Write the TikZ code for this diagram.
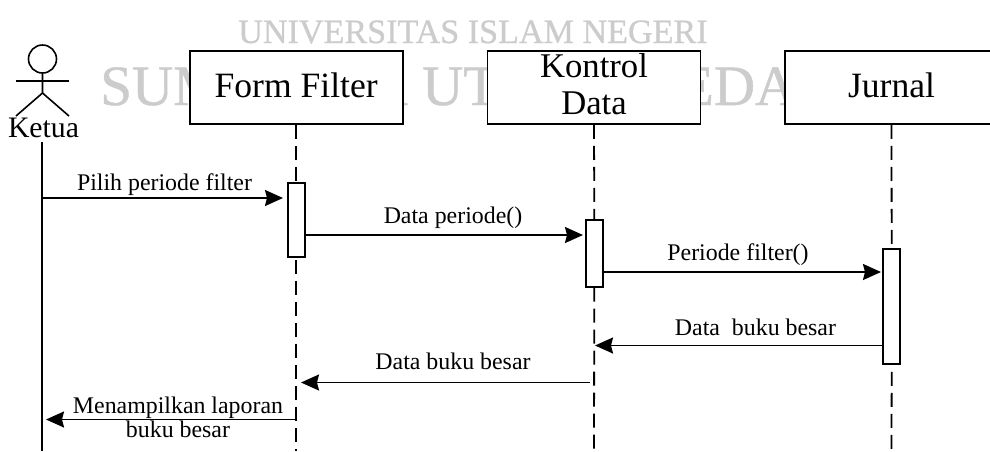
\documentclass[tikz,border=0pt]{standalone}
\usepackage{fontspec}
\setmainfont{Liberation Serif}
\newfontfamily\wmfont[FakeBold=0.8]{Liberation Serif}
\usetikzlibrary{arrows.meta}
\newcommand{\pxsize}[1]{\fontsize{#1}{#1}\selectfont}
\tikzset{
  x=0.75pt,y=-0.75pt,
  lw/.style={line width=1.35pt,black},
  headbox/.style={draw,lw,fill=white,minimum width=159.75pt,minimum height=54.75pt,inner sep=0pt,align=center,font=\fontsize{26.7}{27.75}\selectfont,text depth=3.8pt},
  actbox/.style={draw,lw,fill=white,minimum width=12.75pt,inner sep=0pt},
  life/.style={lw,dash pattern=on 10.5pt off 5.25pt},
  msg/.style={lw,-{Stealth[length=13.5pt,width=12pt,inset=1.5pt]}},
  lbl/.style={font=\pxsize{17.9},inner sep=0pt,align=center},
  wm/.style={text=black!20,inner sep=0pt,anchor=base west},
  stick/.style={line width=1.2pt,black}
}
\begin{document}
\begin{tikzpicture}
\useasboundingbox (0,0) rectangle (990,451);
\clip (0,0) rectangle (990,451);
% watermark
\node[wm,font=\wmfont\pxsize{25.6}] (wma) at (238,43) {UNIVERSITAS ISLAM NEGERI};
\node[wm,font=\wmfont\pxsize{42.8}] (wmb) at (100,105) {SUMATERA UTARA MEDAN};
% coordinates at the foot of the picture
\coordinate (ketuatop) at (42,142);
\coordinate (ketuaend) at (42,451);
\coordinate (ffend) at (296.2,451);
\coordinate (kdend) at (594,451);
\coordinate (juend) at (891.5,451);
% head boxes
\node[headbox] (ff) at (296.2,87.5) {Form Filter};
\node[headbox,text depth=5pt,font=\fontsize{26}{27.75}\selectfont] (kd) at (594,87.5) {Kontrol\\Data};
\node[headbox] (ju) at (891.5,87.5) {Jurnal};
% actor
\node[draw,circle,stick,minimum size=21pt,inner sep=0pt] (head) at (42.5,59) {};
\coordinate (hip) at (42.5,93);
\coordinate (armL) at (16,81);
\coordinate (armR) at (69,81);
\coordinate (legL) at (16,116);
\coordinate (legR) at (69,116);
\draw[stick] (head.south) -- (hip) -- (legL);
\draw[stick] (hip) -- (legR);
\draw[stick] (armL) -- (armR);
\node[font=\pxsize{22.3},inner sep=0pt,anchor=base] (ketua) at (43.5,137) {Ketua};
% activations
\node[actbox,minimum height=55.5pt] (a1) at (296.2,220) {};
\node[actbox,minimum height=50pt] (a2) at (594.3,253.3) {};
\node[actbox,minimum height=86.25pt] (a3) at (891.7,306.5) {};
% lifelines
\draw[lw] (ketuatop) -- (ketuaend);
\draw[life] (ff.south) -- (a1.north);
\draw[life] (a1.south) ++(0,2) -- (ffend);
\draw[life] (kd.south) -- (a2.north);
\draw[life] (a2.south) -- (kdend);
\draw[life] (ju.south) -- (a3.north);
\draw[life] (a3.south) ++(0,7) -- (juend);
% message end points
\coordinate (m1a) at (42,198);   \coordinate (m1b) at (283,198);
\coordinate (m2a) at (a1.east |- 0,235);   \coordinate (m2b) at (583,235);
\coordinate (m3a) at (a2.east |- 0,272);   \coordinate (m3b) at (881,272);
\coordinate (m4a) at (a3.west |- 0,345.5); \coordinate (m4b) at (595,345.5);
\coordinate (m5a) at (590,382.5); \coordinate (m5b) at (301,382.5);
\coordinate (m6a) at (296,419.5); \coordinate (m6b) at (46,419.5);
\draw[msg] (m1a) -- (m1b);
\draw[msg] (m2a) -- (m2b);
\draw[msg] (m3a) -- (m3b);
\draw[msg] (m4a) -- (m4b);
\draw[msg] (m5a) -- (m5b);
\draw[msg] (m6a) -- (m6b);
% labels
\node[lbl,anchor=base] (l1) at (164.5,190) {Pilih periode filter};
\node[lbl,anchor=base] (l2) at (453,223) {Data periode()};
\node[lbl,anchor=base] (l3) at (738,260) {Periode filter()};
\node[lbl,anchor=base] (l4) at (755.5,335) {Data\ \ buku besar};
\node[lbl,anchor=base] (l5) at (453,369) {Data buku besar};
\node[lbl,anchor=base] (l6a) at (178,413) {Menampilkan laporan};
\node[lbl,anchor=base] (l6b) at (178,437) {buku besar};
\end{tikzpicture}
\end{document}
